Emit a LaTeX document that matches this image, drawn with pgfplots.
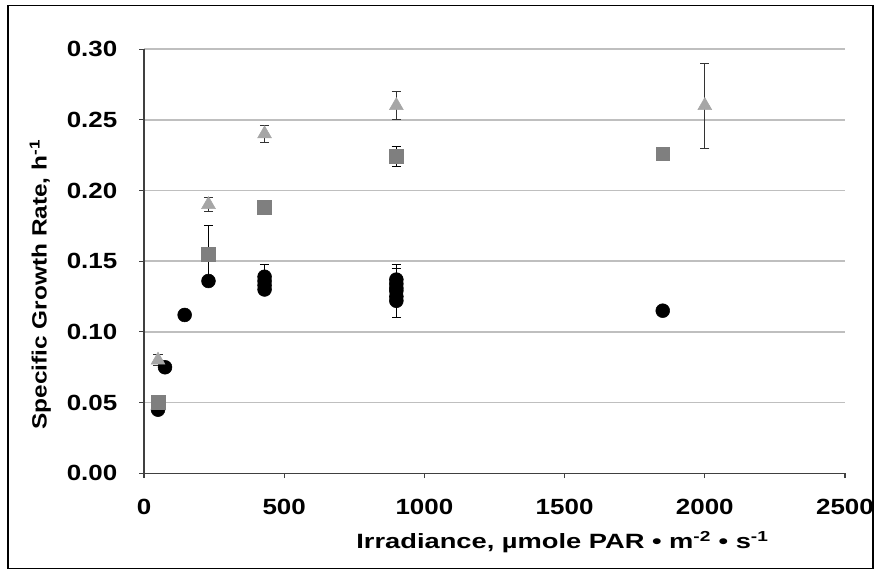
\documentclass[border=0pt]{standalone}
\usepackage{pgfplots}
\pgfplotsset{compat=1.18}
\usepackage{fontspec}
\setmainfont{Liberation Sans}[FakeStretch=1.18]
\newfontfamily\xlabfont{Liberation Sans}[FakeStretch=1.32]
\definecolor{tri}{HTML}{A6A6A6}
\definecolor{sq}{HTML}{7F7F7F}
\definecolor{gridc}{HTML}{BFBFBF}
\definecolor{axc}{HTML}{404040}
\begin{document}
\begin{tikzpicture}
\useasboundingbox (-108pt,-73.3pt) rectangle (548.25pt,355pt);
\begin{axis}[
  at={(0pt,0pt)}, anchor=south west,
  scale only axis, width=525.75pt, height=318.2pt,
  xmin=0, xmax=2500, ymin=0, ymax=0.30,
  xtick={0,500,1000,1500,2000,2500},
  ytick={0,0.05,0.10,0.15,0.20,0.25,0.30},
  axis x line*=bottom, axis y line*=left,
  axis line style={-, axc, line width=0.8pt},
  tick align=outside, major tick length=3.5pt,
  tick style={axc, line width=0.8pt},
  ymajorgrids, grid style={gridc, line width=1.1pt},
  /pgf/number format/assume math mode=true,
  yticklabel style={/pgf/number format/.cd, fixed, fixed zerofill, precision=2, /tikz/.cd,
     font=\bfseries\fontsize{16.5}{19}\selectfont, xshift=-13pt},
  xticklabel style={/pgf/number format/1000 sep={}, font=\bfseries\fontsize{16.5}{19}\selectfont, yshift=-12pt},
  xlabel={Irradiance, µmole PAR • m\textsuperscript{-2} • s\textsuperscript{-1}},
  ylabel={Specific Growth Rate, h\textsuperscript{-1}},
  every axis x label/.style={at={(axis description cs:0.597,-0.177)}, anchor=base,
     font=\xlabfont\bfseries\fontsize{15.5}{18}\selectfont},
  every axis y label/.style={at={(axis description cs:-0.148,0.445)}, anchor=center, rotate=90,
     font=\bfseries\fontsize{15.5}{18}\selectfont},
  clip=false,
]
% circles without error bars
\addplot[only marks, mark=*, mark size=5.2pt, mark options={fill=black, draw=black}] coordinates {
 (50,0.045) (75,0.075) (145,0.112) (230,0.136)
 (430,0.130) (430,0.133) (430,0.136)
 (900,0.122) (900,0.125) (900,0.131) (900,0.134)
 (1850,0.115)
};
% circles with error bars
\addplot[only marks, mark=*, mark size=5.2pt, mark options={fill=black, draw=black},
  error bars/.cd, y dir=both, y explicit,
  error mark options={rotate=90, mark size=3.5pt, black, line width=0.6pt},
  error bar style={black, line width=0.6pt}] coordinates {
 (430,0.139) +- (0,0.009)
 (900,0.129) +- (0,0.019)
 (900,0.137) +- (0,0.008)
};
% squares
\addplot[only marks, mark=square*, mark size=5.2pt, mark options={fill=sq, draw=sq},
  error bars/.cd, y dir=both, y explicit,
  error mark options={rotate=90, mark size=3.5pt, black, line width=0.6pt},
  error bar style={black, line width=0.6pt}] coordinates {
 (50,0.050) +- (0,0.005)
 (230,0.155) +- (0,0.020)
 (430,0.188) +- (0,0.0)
 (900,0.224) +- (0,0.007)
 (1850,0.226) +- (0,0.0)
};
% triangles
\addplot[only marks, mark=triangle*, mark size=6pt, mark options={fill=tri, draw=tri},
  error bars/.cd, y dir=both, y explicit,
  error mark options={rotate=90, mark size=3.5pt, black!80, line width=0.6pt},
  error bar style={black!80, line width=0.6pt}] coordinates {
 (50,0.080) +- (0,0.004)
 (230,0.190) +- (0,0.005)
 (430,0.240) +- (0,0.006)
 (900,0.260) +- (0,0.010)
 (2000,0.260) +- (0,0.030)
};
\end{axis}
\draw[black, line width=0.8pt] (-102pt,-71.5pt) rectangle (546.75pt,351pt);
\end{tikzpicture}
\end{document}
